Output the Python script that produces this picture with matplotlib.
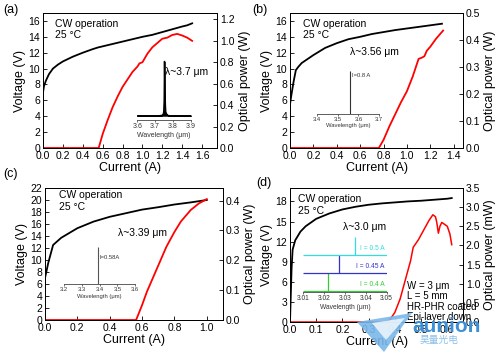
import matplotlib.pyplot as plt
from matplotlib.patches import Polygon

plt.rcParams['font.family'] = ['Liberation Sans', 'DejaVu Sans']

W, H = 500, 352

# (a)
a_cur_v = [0, 0.01, 0.03, 0.06, 0.1, 0.15, 0.2, 0.3, 0.4, 0.5, 0.55, 0.6, 0.7, 0.8, 0.9, 1.0, 1.1, 1.2, 1.3, 1.4, 1.45, 1.5]
a_volt = [7.0, 7.8, 8.5, 9.3, 10.0, 10.5, 10.9, 11.5, 12.0, 12.45, 12.65, 12.8, 13.1, 13.4, 13.7, 14.0, 14.25, 14.6, 14.95, 15.3, 15.45, 15.7]
a_cur_p = [0, 0.56, 0.6, 0.65, 0.7, 0.75, 0.8, 0.85, 0.9, 0.95, 0.97, 1.0, 1.05, 1.1, 1.15, 1.2, 1.25, 1.3, 1.35, 1.4, 1.45, 1.5]
a_pow = [0, 0, 0.13, 0.26, 0.38, 0.48, 0.57, 0.64, 0.71, 0.76, 0.79, 0.80, 0.88, 0.94, 0.98, 1.02, 1.03, 1.055, 1.065, 1.05, 1.03, 1.0]
a_wl = [3.60, 3.72, 3.74, 3.745, 3.748, 3.75, 3.752, 3.754, 3.756, 3.758, 3.76, 3.765, 3.77, 3.78, 3.90]
a_spec = [0.0, 0.0, 0.01, 0.03, 0.08, 0.25, 1.0, 0.45, 0.2, 0.08, 0.05, 0.03, 0.01, 0.0, 0.0]

# (b)
b_cur_v = [0, 0.01, 0.03, 0.05, 0.07, 0.1, 0.15, 0.2, 0.3, 0.4, 0.5, 0.6, 0.7, 0.8, 0.9, 1.0, 1.1, 1.2, 1.3]
b_volt = [5.5, 6.5, 8.3, 9.8, 10.2, 10.7, 11.2, 11.7, 12.6, 13.2, 13.7, 14.0, 14.35, 14.6, 14.85, 15.05, 15.25, 15.45, 15.65]
b_cur_p = [0, 0.76, 0.8, 0.85, 0.9, 0.95, 1.0, 1.05, 1.1, 1.13, 1.15, 1.17, 1.2, 1.25, 1.31]
b_pow = [0, 0, 0.03, 0.08, 0.125, 0.17, 0.21, 0.265, 0.33, 0.335, 0.34, 0.36, 0.375, 0.405, 0.435]
b_peak = 3.56

# (c)
c_cur_v = [0, 0.02, 0.05, 0.1, 0.2, 0.3, 0.4, 0.5, 0.6, 0.7, 0.8, 0.9, 1.0]
c_volt = [7.0, 9.5, 12.5, 13.7, 15.3, 16.4, 17.2, 17.8, 18.4, 18.8, 19.25, 19.6, 20.0]
c_cur_p = [0, 0.563, 0.6, 0.63, 0.67, 0.71, 0.75, 0.8, 0.84, 0.9, 0.95, 1.0]
c_pow = [0, 0, 0.05, 0.095, 0.145, 0.195, 0.245, 0.295, 0.33, 0.368, 0.39, 0.405]
c_peak = 3.39

# (d)
d_cur_v = [0, 0.003, 0.006, 0.01, 0.02, 0.04, 0.06, 0.1, 0.15, 0.2, 0.25, 0.3, 0.35, 0.4, 0.45, 0.5, 0.55, 0.6, 0.617]
d_volt = [0, 4, 8, 10.8, 12.2, 13.5, 14.3, 15.4, 16.2, 16.8, 17.2, 17.5, 17.7, 17.85, 18.0, 18.1, 18.25, 18.4, 18.5]
d_cur_p = [0, 0.36, 0.38, 0.40, 0.42, 0.44, 0.46, 0.47, 0.49, 0.51, 0.53, 0.545, 0.555, 0.56, 0.566, 0.572, 0.579, 0.59, 0.60, 0.61, 0.617]
d_pow = [0, 0, 0.05, 0.25, 0.6, 1.1, 1.6, 1.95, 2.15, 2.4, 2.65, 2.8, 2.75, 2.6, 2.32, 2.5, 2.6, 2.55, 2.5, 2.3, 2.02]
d_currents = ['I = 0.4 A', 'I = 0.45 A', 'I = 0.5 A']
d_peaks = [3.022, 3.027, 3.035]
d_colors = ['#33cc33', '#3333cc', '#33dddd']


def box(l, t, r, b):
    return [l / W, 1 - b / H, (r - l) / W, (b - t) / H]


def main_axes(fig, rect, xlim, xticks, ylim, yticks, y2lim, y2ticks, y2label, fmt_y="%d"):
    ax = fig.add_axes(box(*rect))
    ax2 = ax.twinx()
    ax.set_xlim(*xlim)
    ax.set_ylim(*ylim)
    ax2.set_ylim(*y2lim)
    ax.set_xticks(xticks)
    ax.set_xticklabels(["%.1f" % t for t in xticks])
    ax.set_yticks(yticks)
    ax.set_yticklabels([fmt_y % t for t in yticks])
    ax2.set_yticks(y2ticks)
    ax2.set_yticklabels(["%.1f" % t for t in y2ticks])
    for a in (ax, ax2):
        a.tick_params(direction='in', labelsize=7.5, length=3, width=0.6, pad=2)
        for s in a.spines.values():
            s.set_linewidth(0.7)
    ax.set_xlabel("Current (A)", fontsize=9, labelpad=1)
    ax.set_ylabel("Voltage (V)", fontsize=9, labelpad=2)
    ax2.set_ylabel(y2label, fontsize=9, labelpad=3)
    return ax, ax2


def inset(fig, rect, xlim, xticks, ylim, fs=4.5):
    ia = fig.add_axes(box(*rect))
    ia.patch.set_alpha(0)
    for s in ('left', 'right', 'top'):
        ia.spines[s].set_visible(False)
    ia.spines['bottom'].set_linewidth(0.6)
    ia.spines['bottom'].set_color('#444444')
    ia.set_yticks([])
    ia.set_xlim(*xlim)
    ia.set_ylim(*ylim)
    ia.set_xticks(xticks)
    ia.tick_params(axis='x', direction='out', length=1.5, width=0.5, labelsize=fs, pad=1, colors='#333333')
    ia.set_xlabel("Wavelength (\u03bcm)", fontsize=fs, labelpad=1, color='#333333')
    return ia


fig = plt.figure(figsize=(W / 100, H / 100), dpi=100)

# ---- panel (a)
ax, ax2 = main_axes(fig, (43, 13, 217, 148), (0, 1.75), [0, 0.2, 0.4, 0.6, 0.8, 1.0, 1.2, 1.4, 1.6],
                    (0, 17), range(0, 17, 2), (0, 1.26), [0, 0.2, 0.4, 0.6, 0.8, 1.0, 1.2], "Optical power (W)")
ax.plot(a_cur_v, a_volt, color='black', lw=1.3)
ax2.plot(a_cur_p, a_pow, color='red', lw=1.3)
ia = inset(fig, (137.3, 58, 190.7, 120), (3.6, 3.9), [3.6, 3.7, 3.8, 3.9], (-0.08, 1.06), fs=5)
ia.fill_between(a_wl, 0, a_spec, color='black', lw=0.8)
ia.plot(a_wl, a_spec, color='black', lw=0.8)
fig.text(165 / W, 1 - 72 / H, "\u03bb~3.7 \u03bcm", fontsize=7.5, va='center')

# ---- panel (b)
ax, ax2 = main_axes(fig, (290, 13, 463, 148), (0, 1.48), [0, 0.2, 0.4, 0.6, 0.8, 1.0, 1.2, 1.4],
                    (0, 17), range(0, 17, 2), (0, 0.5), [0, 0.1, 0.2, 0.3, 0.4, 0.5], "Optical power (W)")
ax.plot(b_cur_v, b_volt, color='black', lw=1.3)
ax2.plot(b_cur_p, b_pow, color='red', lw=1.3)
ia = inset(fig, (316.7, 68, 379.3, 113.5), (3.4, 3.7), [3.4, 3.5, 3.6, 3.7], (0, 1.08), fs=4.2)
ia.vlines([b_peak], 0, 1.0, color='#333333', lw=0.8)
ia.text(b_peak + 0.007, 0.9, "I=0.8 A", fontsize=4.2, color='#333333', va='center')
fig.text(350 / W, 1 - 52 / H, "\u03bb~3.56 \u03bcm", fontsize=7.5, va='center')

# ---- panel (c)
ax, ax2 = main_axes(fig, (45, 188, 223, 320), (0, 1.1), [0, 0.2, 0.4, 0.6, 0.8, 1.0],
                    (0, 22), range(0, 23, 2), (0, 0.442), [0, 0.1, 0.2, 0.3, 0.4], "Optical power (W)")
ax.plot(c_cur_v, c_volt, color='black', lw=1.3)
ax2.plot(c_cur_p, c_pow, color='red', lw=1.3)
ia = inset(fig, (64.3, 244, 135, 284), (3.2, 3.6), [3.2, 3.3, 3.4, 3.5, 3.6], (0, 1.07), fs=4.2)
ia.vlines([c_peak], 0, 1.0, color='#555555', lw=0.8)
ia.text(c_peak + 0.008, 0.72, "I=0.58A", fontsize=4.2, color='#333333', va='center')
fig.text(118 / W, 1 - 233 / H, "\u03bb~3.39 \u03bcm", fontsize=7.5, va='center')

# ---- panel (d)
ax, ax2 = main_axes(fig, (290, 188, 463, 322), (0, 0.66), [0, 0.1, 0.2, 0.3, 0.4, 0.5, 0.6],
                    (0, 20), range(0, 19, 3), (0, 3.5), [0, 0.5, 1.0, 1.5, 2.0, 2.5, 3.0, 3.5], "Optical power (mW)")
ax.plot(d_cur_v, d_volt, color='black', lw=1.3)
ax2.plot(d_cur_p, d_pow, color='red', lw=1.1)
ia = inset(fig, (303.3, 235, 386.7, 292), (3.01, 3.05), [3.01, 3.02, 3.03, 3.04, 3.05], (-0.07, 3.1), fs=4.8)
for i, (lab, pk, col) in enumerate(zip(d_currents, d_peaks, d_colors)):
    ia.hlines(i, 3.01, 3.05, color=col, lw=0.9)
    ia.vlines(pk, i, i + 1, color=col, lw=0.9)
    ia.text(3.049, i + 0.33, lab, fontsize=4.8, color=col, ha='right', va='center')
fig.text(343 / W, 1 - 226.7 / H, "\u03bb~3.0 \u03bcm", fontsize=7.5, va='center')
for k, line in enumerate(["W = 3 \u03bcm", "L = 5 mm", "HR-PHR coated", "Epi-layer down"]):
    fig.text(406.7 / W, 1 - (286 + 10.4 * k) / H, line, fontsize=7, va='center')

# common annotations
for x0, y0 in [(55, 24), (303.3, 24), (59.3, 195.5), (298.3, 199.3)]:
    fig.text(x0 / W, 1 - y0 / H, "CW operation", fontsize=7.5, va='center')
    fig.text(x0 / W, 1 - (y0 + 11.5) / H, "25 \u00b0C", fontsize=7.5, va='center')

for lab, x0, y0 in [("(a)", 3, 10), ("(b)", 252, 10), ("(c)", 3, 174), ("(d)", 256, 183)]:
    fig.text(x0 / W, 1 - y0 / H, lab, fontsize=9, va='center')

# watermark, drawn on top of everything like in the source image
fig.patches.append(Polygon([(357 / W, 1 - 322 / H), (412 / W, 1 - 313 / H), (384 / W, 1 - 352 / H)],
                           closed=True, transform=fig.transFigure, color='#7ab8ea', alpha=0.9, lw=0, zorder=20))
fig.patches.append(Polygon([(372 / W, 1 - 323 / H), (405 / W, 1 - 318 / H), (386 / W, 1 - 340 / H)],
                           closed=True, transform=fig.transFigure, color='#ffffff', alpha=0.75, lw=0, zorder=21))
fig.text(412 / W, 1 - 326 / H, "aunion", fontsize=15, fontweight='bold', color='#3d8fd6', va='center', zorder=22)
fig.text(420 / W, 1 - 340 / H, "\u660a\u91cf\u5149\u7535", fontsize=7, color='#8cc0ea', va='center',
         family=['Noto Sans CJK SC', 'DejaVu Sans'], zorder=22)

fig.savefig("out.png", dpi=100)
